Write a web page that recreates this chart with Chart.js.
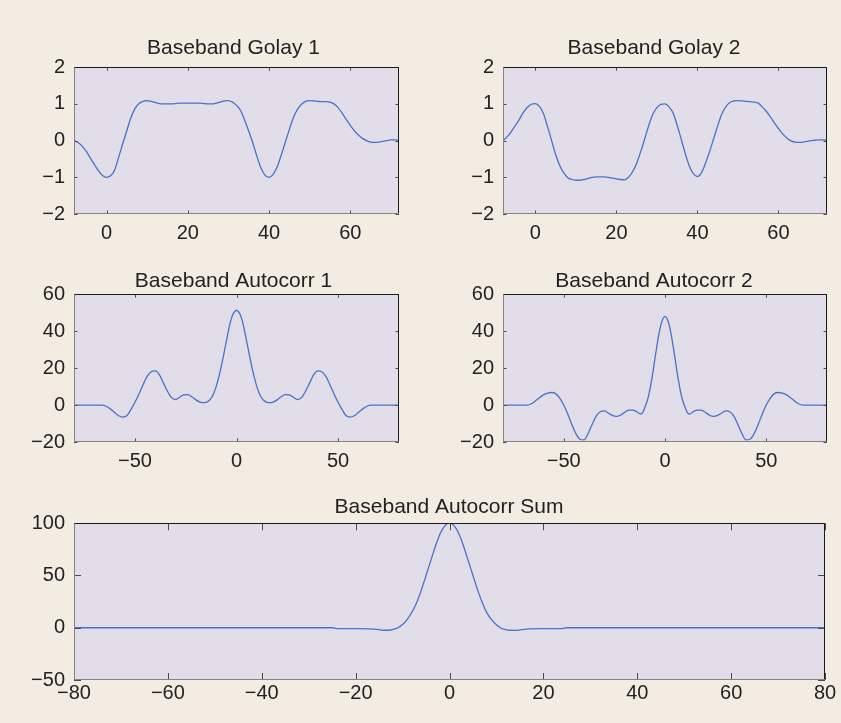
<!DOCTYPE html>
<html><head><meta charset="utf-8">
<script src="https://cdn.jsdelivr.net/npm/chart.js@4.4.1/dist/chart.umd.min.js"></script>
<style>
html,body{margin:0;padding:0;width:841px;height:723px;overflow:hidden;background:#f2ece3;}
canvas{position:absolute;}
</style></head><body>
<canvas id="c1"></canvas><canvas id="c2"></canvas><canvas id="c3"></canvas><canvas id="c4"></canvas><canvas id="c5"></canvas>
<script>
// ---------- DATA ----------
const titles = ['Baseband Golay 1', 'Baseband Golay 2', 'Baseband Autocorr 1', 'Baseband Autocorr 2', 'Baseband Autocorr Sum'];

const golayX = [-8,-7,-6,-5,-4,-3,-2,-1,0,1,
  2,3,4,5,6,7,8,9,10,11,
  12,13,14,15,16,17,18,19,20,21,
  22,23,24,25,26,27,28,29,30,31,
  32,33,34,35,36,37,38,39,40,41,
  42,43,44,45,46,47,48,49,50,51,
  52,53,54,55,56,57,58,59,60,61,
  62,63,64,65,66,67,68,69,70,71,
  72];
const golay1 = [0.0,-0.05,-0.15,-0.29,-0.47,-0.65,-0.82,-0.95,-1.0,-0.96,
  -0.8,-0.45,-0.08,0.27,0.62,0.87,1.01,1.07,1.09,1.07,
  1.04,1.01,1.0,1.0,1.0,1.01,1.02,1.02,1.02,1.02,
  1.02,1.02,1.01,1.0,1.0,1.02,1.05,1.08,1.09,1.05,
  0.96,0.82,0.56,0.26,-0.06,-0.42,-0.74,-0.94,-1.0,-0.92,
  -0.72,-0.4,-0.05,0.3,0.62,0.85,0.99,1.07,1.09,1.08,
  1.07,1.06,1.06,1.05,1.0,0.9,0.75,0.58,0.42,0.27,
  0.15,0.06,0.0,-0.04,-0.05,-0.04,-0.02,0.0,0.02,0.02,
  0.01];
const golay2 = [0.0,0.1,0.24,0.4,0.57,0.76,0.9,0.99,1.01,0.93,
  0.73,0.38,0.0,-0.38,-0.68,-0.88,-1.01,-1.06,-1.08,-1.08,
  -1.06,-1.03,-1.0,-0.99,-0.99,-0.99,-1.0,-1.02,-1.04,-1.06,
  -1.07,-1.0,-0.85,-0.62,-0.3,0.05,0.42,0.72,0.9,0.99,
  1.0,0.92,0.75,0.42,0.04,-0.35,-0.69,-0.9,-0.98,-0.88,
  -0.62,-0.3,0.05,0.4,0.72,0.92,1.04,1.08,1.09,1.08,
  1.07,1.06,1.05,1.02,0.92,0.8,0.65,0.48,0.33,0.19,
  0.08,0.0,-0.04,-0.05,-0.04,-0.02,0.0,0.01,0.02,0.02,
  0.01];

const acX = [-80,-76,-72,-68,-66,-64,-62,-60,-58,-56,-54,-52,-50,-48,-46,-44,-42,-40,-38,-36,-34,-32,-30,-28,-26,-24,-22,-20,-18,-16,-14,-12,-11,-10,-9,-8,-7,-6,-5,-4,-3,-2,-1,
  0,
  1,2,3,4,5,6,7,8,9,10,11,12,14,16,18,20,22,24,26,28,30,32,34,36,38,40,42,44,46,48,50,52,54,56,58,60,62,64,66,68,72,76,80];
const autocorr1 = [0,0,0,0,0,-0.8,-2.2,-4.0,-5.8,-6.5,-5.8,-2.5,1.5,6.0,11.0,15.5,18.0,18.5,16.5,12.0,7.5,4.0,3.0,4.2,5.5,5.6,4.5,2.8,1.6,1.3,2.0,4.5,7.0,10.0,14.0,18.5,23.5,29.0,34.5,40.0,45.0,48.5,50.5,
  51.3,
  50.5,48.5,45.0,40.0,34.5,29.0,23.5,18.5,14.0,10.0,7.0,4.5,2.0,1.3,1.6,2.8,4.5,5.6,5.5,4.2,3.0,4.0,7.5,12.0,16.5,18.5,18.0,15.5,11.0,6.0,1.5,-2.5,-5.8,-6.5,-5.8,-4.0,-2.2,-0.8,0,0,0,0,0];
const autocorr2 = [0,0,0,0,0.7,2.2,4.0,5.5,6.4,6.8,6.2,3.8,0.0,-5.0,-10.5,-15.5,-18.5,-18.8,-15.5,-10.5,-6.0,-3.6,-3.2,-4.3,-5.6,-6.1,-5.5,-4.0,-2.8,-2.7,-3.6,-4.9,-4.0,-1.5,1.5,5.5,11.0,17.5,25.0,32.0,38.5,43.5,46.8,
  48.0,
  46.8,43.5,38.5,32.0,25.0,17.5,11.0,5.5,1.5,-1.5,-4.0,-4.9,-3.6,-2.7,-2.8,-4.0,-5.5,-6.1,-5.6,-4.3,-3.2,-3.6,-6.0,-10.5,-15.5,-18.8,-18.5,-15.5,-10.5,-5.0,0.0,3.8,6.2,6.8,6.4,5.5,4.0,2.2,0.7,0,0,0,0];

const sumX = [-80,-70,-60,-50,-40,-30,-25,-24,-20,-17,-16,-15,-14,-13,-12,-11,-10,-9,-8,-7,-6,-5,-4,-3,-2,-1,
  0,
  1,2,3,4,5,6,7,8,9,10,11,12,13,14,15,16,17,20,24,25,30,40,50,60,70,80];
const autocorrSum = [0,0,0,0,0,0,0,-0.8,-0.8,-1.0,-1.3,-1.9,-2.4,-2.4,-1.6,0.0,3.0,8.0,15.0,24.0,36.0,50.0,64.0,78.0,90.0,97.5,
  100,
  97.5,90.0,78.0,64.0,50.0,36.0,24.0,14.0,7.5,2.8,-0.5,-1.8,-2.4,-2.5,-2.0,-1.5,-1.0,-0.8,-0.8,0,0,0,0,0,0,0];

const golayXTicks = [0, 20, 40, 60];
const golayYTicks = [-2, -1, 0, 1, 2];
const acXTicks = [-50, 0, 50];
const acYTicks = [-20, 0, 20, 40, 60];
const sumXTicks = [-80, -60, -40, -20, 0, 20, 40, 60, 80];
const sumYTicks = [-50, 0, 50, 100];

// ---------- STYLE / LAYOUT ----------
const FONT = '"Liberation Sans", Arial, Helvetica, sans-serif';
const TEXT = '#222222';
const LINE = '#4a70c8';
const PLOT_BG = '#e2dee9';

const panels = [
  {id:'c1', title:titles[0], xs:golayX, ys:golay1, xMin:-8, xMax:72, yMin:-2, yMax:2, xTicks:golayXTicks, yTicks:golayYTicks,
   area:{l:74,t:67,r:399,b:214}, tcx:233.5, tcy:48, left:20, xPad:7, tickLen:3.5},
  {id:'c2', title:titles[1], xs:golayX, ys:golay2, xMin:-8, xMax:72, yMin:-2, yMax:2, xTicks:golayXTicks, yTicks:golayYTicks,
   area:{l:503,t:67,r:827,b:214}, tcx:654, tcy:48, left:455, xPad:7, tickLen:3.5},
  {id:'c3', title:titles[2], xs:acX, ys:autocorr1, xMin:-80, xMax:80, yMin:-20, yMax:60, xTicks:acXTicks, yTicks:acYTicks,
   area:{l:74,t:294,r:399,b:442}, tcx:233.5, tcy:281, left:20, xPad:7, tickLen:3.5},
  {id:'c4', title:titles[3], xs:acX, ys:autocorr2, xMin:-80, xMax:80, yMin:-20, yMax:60, xTicks:acXTicks, yTicks:acYTicks,
   area:{l:503,t:294,r:827,b:442}, tcx:654, tcy:281, left:455, xPad:7, tickLen:3.5},
  {id:'c5', title:titles[4], xs:sumX, ys:autocorrSum, xMin:-80, xMax:80, yMin:-50, yMax:100, xTicks:sumXTicks, yTicks:sumYTicks,
   area:{l:74,t:523,r:825,b:680}, tcx:449, tcy:507, left:14, xPad:1, tickLen:7},
];

const framePlugin = {
  id: 'matlabFrame',
  beforeDatasetsDraw(chart) {
    const a = chart.chartArea, ctx = chart.ctx;
    ctx.save();
    ctx.fillStyle = PLOT_BG;
    ctx.fillRect(a.left, a.top, a.right - a.left, a.bottom - a.top);
    ctx.restore();
  },
  afterDatasetsDraw(chart, args, opts) {
    const a = chart.chartArea, ctx = chart.ctx;
    const xs = chart.scales.x, ys = chart.scales.y;
    const tl = opts.tickLen || 4;
    ctx.save();
    ctx.lineWidth = 1;
    ctx.strokeStyle = '#4a4a4a';
    ctx.beginPath();
    xs.ticks.forEach(t => {
      const px = Math.round(xs.getPixelForValue(t.value)) + 0.5;
      ctx.moveTo(px, a.bottom); ctx.lineTo(px, a.bottom - tl);
      ctx.moveTo(px, a.top); ctx.lineTo(px, a.top + tl);
    });
    ys.ticks.forEach(t => {
      const py = Math.round(ys.getPixelForValue(t.value)) + 0.5;
      ctx.moveTo(a.left, py); ctx.lineTo(a.left + tl, py);
      ctx.moveTo(a.right, py); ctx.lineTo(a.right - tl, py);
    });
    ctx.stroke();
    const L = Math.round(a.left) + 0.5, R = Math.round(a.right) - 0.5;
    const T = Math.round(a.top) + 0.5, B = Math.round(a.bottom) - 0.5;
    ctx.strokeStyle = '#1a1a1a';
    ctx.beginPath(); ctx.moveTo(L, T); ctx.lineTo(R, T); ctx.lineTo(R, B); ctx.stroke();
    ctx.strokeStyle = '#8f7e7e';
    ctx.beginPath(); ctx.moveTo(L, T); ctx.lineTo(L, B); ctx.lineTo(R, B); ctx.stroke();
    ctx.restore();
  }
};

const fmt = v => String(v).replace('-', '\u2212');

panels.forEach(p => {
  const a = p.area;
  const L = p.left;
  const R = Math.round(2 * p.tcx - L);
  const WL = a.l - L;
  const WR = R - a.r;
  const T = p.tcy - 12;
  const pb = a.t - T - 25;
  const H = 40;
  const canvas = document.getElementById(p.id);
  canvas.width = R - L; canvas.height = a.b + H - T;
  canvas.style.left = L + 'px'; canvas.style.top = T + 'px';
  canvas.style.width = (R - L) + 'px'; canvas.style.height = (a.b + H - T) + 'px';

  new Chart(canvas, {
    type: 'line',
    data: {
      datasets: [{
        xAxisID: 'x', yAxisID: 'y',
        data: p.xs.map((x, i) => ({x: x, y: p.ys[i]})),
        borderColor: LINE, borderWidth: 1.3, pointRadius: 0, fill: false,
        cubicInterpolationMode: 'monotone'
      }]
    },
    options: {
      responsive: false, animation: false, devicePixelRatio: 1,
      layout: {padding: 0},
      plugins: {
        legend: {display: false}, tooltip: {enabled: false},
        title: {display: true, text: p.title, color: TEXT, fullSize: true,
          font: {family: FONT, size: 21, weight: 'normal', lineHeight: 1.2},
          padding: {top: 0, bottom: pb}},
        matlabFrame: {tickLen: p.tickLen}
      },
      scales: {
        x: {
          type: 'linear', position: 'bottom', min: p.xMin, max: p.xMax,
          grid: {display: false, drawTicks: false}, border: {display: false},
          afterBuildTicks: s => { s.ticks = p.xTicks.map(v => ({value: v})); },
          afterFit: s => { s.height = H; },
          ticks: {color: TEXT, font: {family: FONT, size: 20}, padding: p.xPad, maxRotation: 0, autoSkip: false, callback: fmt}
        },
        y: {
          type: 'linear', position: 'left', min: p.yMin, max: p.yMax,
          grid: {display: false, drawTicks: false}, border: {display: false},
          afterBuildTicks: s => { s.ticks = p.yTicks.map(v => ({value: v})); },
          afterFit: s => { s.width = WL; },
          ticks: {color: TEXT, font: {family: FONT, size: 20}, padding: 9, autoSkip: false, callback: fmt}
        },
        yR: {
          type: 'linear', position: 'right', min: 0, max: 1,
          grid: {display: false, drawTicks: false}, border: {display: false},
          ticks: {display: false},
          afterFit: s => { s.width = WR; }
        }
      }
    },
    plugins: [framePlugin]
  });
});
</script>
</body></html>
